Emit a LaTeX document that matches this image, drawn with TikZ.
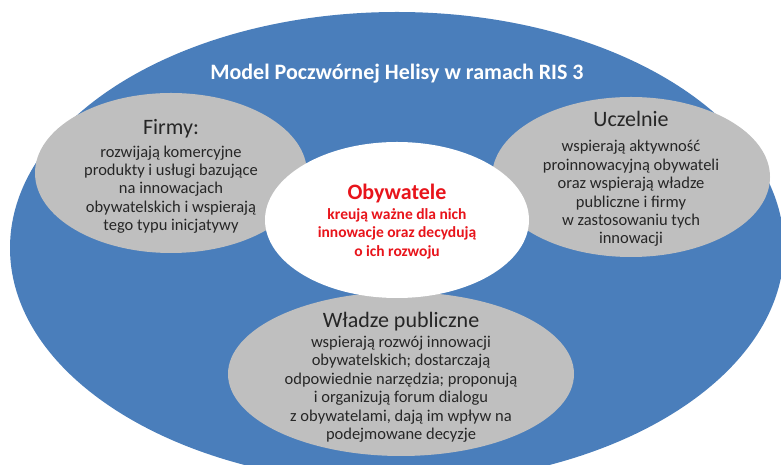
\documentclass[tikz,border=0pt]{standalone}
\usepackage{fontspec}
\setmainfont{Carlito}
\usetikzlibrary{shapes.geometric}

\definecolor{helixblue}{RGB}{74,126,187}
\definecolor{blobgray}{RGB}{191,191,191}
\definecolor{textgray}{RGB}{38,38,38}
\definecolor{citizenred}{RGB}{232,20,27}

\begin{document}
\begin{tikzpicture}[
                            x=1pt,
                            y=1pt,
                            inner sep=0pt
                        ]
                        \tikzstyle{blob}=[ellipse,draw=none,fill=blobgray]
                        \tikzstyle{blobtext}=[align=center,text=textgray,font=\fontsize{16.5}{18.4}\selectfont]

                        \useasboundingbox (0,0) rectangle (781,465);
                        \clip (0,0) rectangle (781,465);

                        \node[ellipse,fill=helixblue,minimum width=774pt,minimum height=472pt] (helix) at (397,217) {};
                        \node[anchor=base,text=white,font=\fontsize{22}{24}\selectfont\bfseries] (title) at (397,385) {Model Poczwórnej Helisy w ramach RIS 3};

                        \node[blob,minimum width=272pt,minimum height=160pt] (firmy) at (171,292) {};
                        \node[blob,minimum width=278pt,minimum height=160pt] (uczelnie) at (631,288) {};
                        \node[blob,minimum width=346pt,minimum height=164pt] (wladze) at (401,91) {};
                        \node[ellipse,fill=white,minimum width=264pt,minimum height=156pt] (obywatele) at (397,245) {};

                        \node[blobtext,yshift=-3.5pt] (firmytxt) at (firmy) {{\fontsize{22}{22}\selectfont Firmy:}\\[4pt]
                            rozwijają komercyjne\\ produkty i usługi bazujące\\ na innowacjach\\
                            obywatelskich i wspierają\\ tego typu inicjatywy};
                        \node[blobtext,yshift=-2pt] (uczelnietxt) at (uczelnie) {{\fontsize{22}{22}\selectfont Uczelnie}\\[7pt]
                            wspierają aktywność\\ proinnowacyjną obywateli\\ oraz wspierają władze\\
                            publiczne i firmy\\ w zastosowaniu tych\\ innowacji};
                        \node[blobtext,yshift=-3pt] (wladzetxt) at (wladze) {{\fontsize{22}{22}\selectfont Władze publiczne}\\[2pt]
                            wspierają rozwój innowacji\\ obywatelskich; dostarczają\\ odpowiednie narzędzia; proponują\\
                            i organizują forum dialogu\\ z obywatelami, dają im wpływ na\\ podejmowane decyzje};
                        \node[blobtext,yshift=-1.5pt,text=citizenred,font=\fontsize{15.5}{18.4}\selectfont\bfseries] (obywateletxt) at (obywatele) {{\fontsize{22}{22}\selectfont Obywatele}\\[1pt]
                            kreują ważne dla nich\\ innowacje oraz decydują\\ o ich rozwoju};
                    \end{tikzpicture}
\end{document}
